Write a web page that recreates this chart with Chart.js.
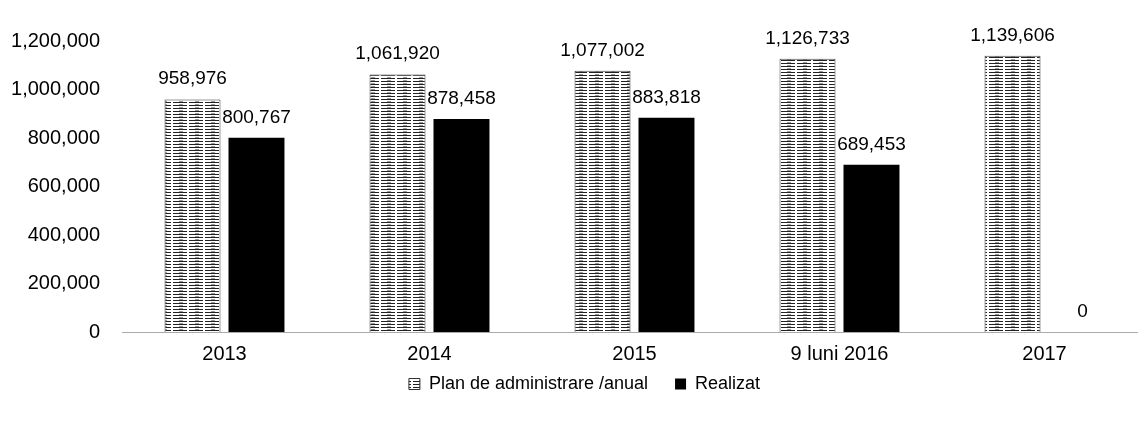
<!DOCTYPE html>
<html>
<head>
<meta charset="utf-8">
<script src="https://cdn.jsdelivr.net/npm/chart.js@4.4.0/dist/chart.umd.min.js"></script>
<style>
  html, body { margin: 0; padding: 0; background: #fff; overflow: hidden; }
  #wrap { width: 1150px; height: 421px; }
</style>
</head>
<body>
<div id="wrap"><canvas id="plan-chart"></canvas></div>
<script>
const categories = ['2013', '2014', '2015', '9 luni 2016', '2017'];
const planValues = [958976, 1061920, 1077002, 1126733, 1139606];
const realizatValues = [800767, 878458, 883818, 689453, 0];
const yTicks = [0, 200000, 400000, 600000, 800000, 1000000, 1200000];

const FONT = '"Liberation Sans", Arial, sans-serif';

// horizontal hatch used for the plan bars
function hatchPattern() {
  const c = document.createElement('canvas');
  c.width = 16;
  c.height = 3;
  const g = c.getContext('2d');
  g.fillStyle = '#fff';
  g.fillRect(0, 0, 16, 3);
  g.fillStyle = '#222';
  g.fillRect(0, 0, 11, 1);
  g.fillRect(13, 0, 3, 1);
  g.fillStyle = '#999';
  g.fillRect(3, 2, 4, 1);
  return g.createPattern(c, 'repeat');
}
const hatch = hatchPattern();

const fmt = v => v.toLocaleString('en-US');

// value labels above every bar
const valueLabels = {
  id: 'valueLabels',
  afterDatasetsDraw(chart) {
    const ctx = chart.ctx;
    ctx.save();
    ctx.font = '19px ' + FONT;
    ctx.fillStyle = '#000';
    ctx.textAlign = 'center';
    ctx.textBaseline = 'alphabetic';
    chart.data.datasets.forEach((ds, i) => {
      chart.getDatasetMeta(i).data.forEach((bar, j) => {
        ctx.fillText(fmt(ds.data[j]), bar.x + (ds.data[j] === 0 ? 6 : 0), bar.y - 15);
      });
    });
    ctx.restore();
  }
};

// nudge the legend right and up, like the original
const legendShift = {
  id: 'legendShift',
  afterLayout(chart) {
    const lg = chart.legend;
    lg.left += 11;
    lg.right += 11;
    lg.top -= 10;
    lg.bottom -= 10;
    lg.adjustHitBoxes();
  }
};

const planChart = new Chart(document.getElementById('plan-chart'), {
  type: 'bar',
  data: {
    labels: categories,
    datasets: [
      {
        label: 'Plan de administrare /anual\u2003',
        data: planValues,
        backgroundColor: hatch,
        borderColor: '#333',
        borderWidth: 1,
        categoryPercentage: 0.624,
        barPercentage: 0.875,
      },
      {
        label: 'Realizat',
        data: realizatValues,
        backgroundColor: '#000',
        borderWidth: 0,
        categoryPercentage: 0.624,
        barPercentage: 0.875,
      },
    ],
  },
  options: {
    responsive: true,
    maintainAspectRatio: false,
    animation: false,
    layout: { padding: { left: 0, right: 3, top: 41, bottom: 8 } },
    plugins: {
      tooltip: { enabled: false },
      legend: {
        position: 'bottom',
        labels: {
          color: '#000',
          font: { family: FONT, size: 18 },
          boxWidth: 11,
          boxHeight: 11,
          padding: 9,
        },
      },
    },
    scales: {
      x: {
        grid: { display: false, drawTicks: false },
        border: { display: true, color: '#aaa', width: 1, dash: [2, 10] },
        ticks: { color: '#000', font: { family: FONT, size: 20 }, padding: 10 },
      },
      y: {
        min: 0,
        max: 1200000,
        afterFit: s => { s.width = 122; },
        afterBuildTicks: s => { s.ticks = yTicks.map(v => ({ value: v })); },
        grid: { display: false, drawTicks: false },
        border: { display: false },
        ticks: {
          color: '#000',
          font: { family: FONT, size: 20 },
          padding: 22,
          callback: v => fmt(v),
        },
      },
    },
  },
  plugins: [valueLabels, legendShift],
});
</script>
</body>
</html>
